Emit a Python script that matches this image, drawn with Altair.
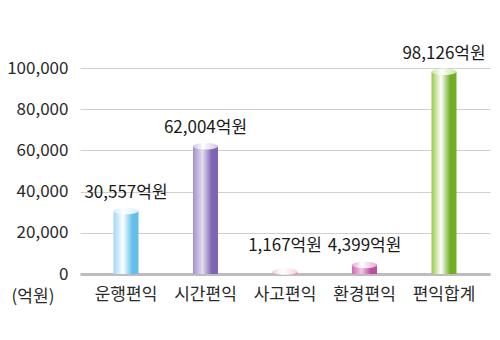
import altair as alt
import pandas as pd

categories = ["운행편익", "시간편익", "사고편익", "환경편익", "편익합계"]
values = [30557, 62004, 1167, 4399, 98126]
labels = ["30,557억원", "62,004억원", "1,167억원", "4,399억원", "98,126억원"]
y_ticks = [0, 20000, 40000, 60000, 80000, 100000]

# (left, highlight, right, cap) colours per bar
palette = {
    "운행편익": ("#9fd8f3", "#ffffff", "#62bfe9", "#d4effb"),
    "시간편익": ("#a490cc", "#e4dcf0", "#8064b4", "#cfc3e6"),
    "사고편익": ("#f2a2c2", "#ffffff", "#e987b2", "#f9d3e3"),
    "환경편익": ("#cc6cae", "#f1c6e2", "#b9529c", "#e4a9d0"),
    "편익합계": ("#98c94a", "#ffffff", "#72ad26", "#cbe59c"),
}

df = pd.DataFrame({"cat": categories, "value": values, "label": labels})

FONT = "Noto Sans CJK KR"
FS = 17
TXT = "#2a2a2a"
xscale = alt.Scale(domain=categories, paddingInner=0.6, paddingOuter=0.3785)
yscale = alt.Scale(domain=[0, 100000], nice=False)

x_axis = alt.Axis(
    title=None, ticks=False, labelAngle=0, labelPadding=12,
    labelFont=FONT, labelFontSize=FS, labelColor=TXT,
    domainColor="#bdbdbd", domainWidth=3, grid=False,
)
y_axis = alt.Axis(
    title=None, values=y_ticks, format=",d", ticks=False, domain=False,
    labelPadding=12, labelFont=FONT, labelFontSize=FS, labelColor=TXT,
    gridColor="#cfcfcf", gridWidth=1, grid=True,
)

base = alt.Chart(df)

layers = []
for i, c in enumerate(categories):
    left, hi, right, cap = palette[c]
    grad = {
        "gradient": "linear",
        "x1": 0, "x2": 1, "y1": 0, "y2": 0,
        "stops": [
            {"offset": 0, "color": left},
            {"offset": 0.38, "color": hi},
            {"offset": 0.75, "color": right},
            {"offset": 1, "color": right},
        ],
    }
    capgrad = {
        "gradient": "linear",
        "x1": 0, "x2": 1, "y1": 0, "y2": 0,
        "stops": [
            {"offset": 0, "color": cap},
            {"offset": 0.4, "color": "#ffffff"},
            {"offset": 1, "color": cap},
        ],
    }
    if i == 0:
        enc_x = alt.X("cat:N", scale=xscale, sort=categories, axis=x_axis)
        enc_y = alt.Y("value:Q", scale=yscale, axis=y_axis)
    else:
        enc_x = alt.X("cat:N", scale=xscale, sort=categories)
        enc_y = alt.Y("value:Q", scale=yscale)
    bar = base.transform_filter(alt.datum.cat == c).mark_bar(
        size=25, color=grad
    ).encode(x=enc_x, y=enc_y)
    top = base.transform_filter(alt.datum.cat == c).mark_point(
        shape="M-1,0 A1,0.26 0 1,1 1,0 A1,0.26 0 1,1 -1,0 Z",
        size=625, filled=True, opacity=1, fill=capgrad, strokeWidth=0,
    ).encode(
        x=alt.X("cat:N", scale=xscale, sort=categories),
        y=alt.Y("value:Q", scale=yscale),
    )
    layers += [bar, top]

text = base.transform_calculate(
    ly="max(datum.value, 5000)"
).mark_text(
    baseline="bottom", dy=-9, font=FONT, fontSize=FS, color="#1a1a1a"
).encode(
    x=alt.X("cat:N", scale=xscale, sort=categories),
    y=alt.Y("ly:Q", scale=yscale),
    text="label:N",
)

unit = alt.Chart(pd.DataFrame({"t": ["(억원)"]})).mark_text(
    font=FONT, fontSize=FS, color=TXT, baseline="middle", align="center"
).encode(x=alt.value(-47), y=alt.value(229), text="t:N")

chart = alt.layer(*layers, text, unit).properties(
    width=410, height=206,
    autosize=alt.AutoSizeParams(type="none"),
    padding={"left": 80, "top": 68, "right": 10, "bottom": 66},
    background="white",
).configure_view(stroke=None)

chart.save("out.html", embed_options={"renderer": "svg", "actions": False})
